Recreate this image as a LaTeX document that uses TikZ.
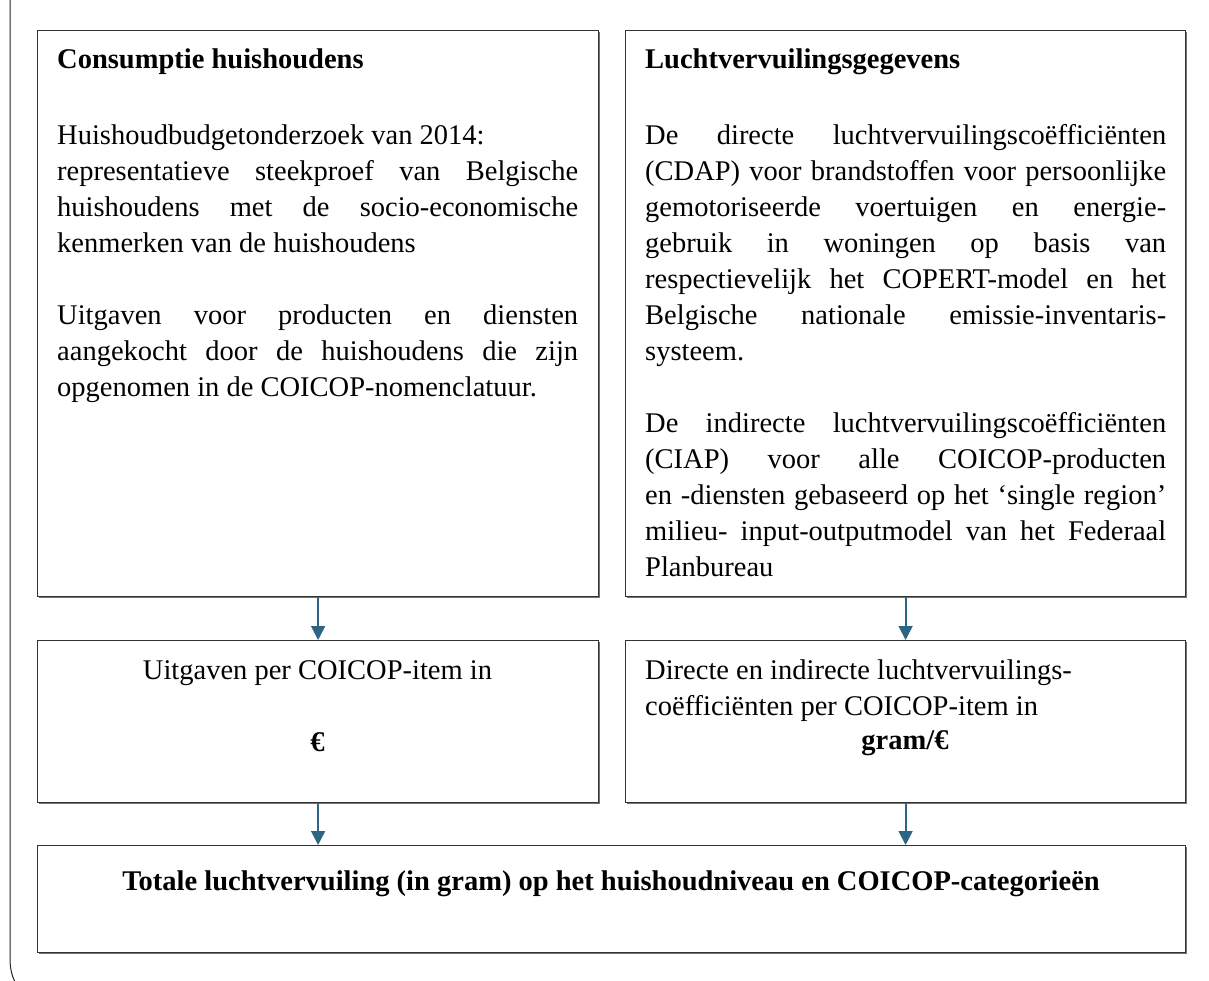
\documentclass[tikz,border=0pt]{standalone}
\usepackage{fontspec}
\setmainfont{Liberation Serif}
\usetikzlibrary{arrows.meta,shadows}
\definecolor{arrowblue}{RGB}{44,102,130}
\definecolor{boxline}{RGB}{50,50,50}
\newcommand{\J}[1]{\makebox[521pt][s]{#1}}
\begin{document}
\begin{tikzpicture}[x=1pt,y=-1pt,
  box/.style={draw=boxline, line width=1.2pt, fill=white, inner sep=0pt, anchor=north west,
    drop shadow={shadow xshift=1.1pt, shadow yshift=-1.1pt, fill=black!55, opacity=1}},
  txt/.style={inner sep=0pt, anchor=north west, align=left, font=\fontsize{28.5}{36}\selectfont},
  head/.style={txt, font=\fontsize{28.5}{36}\selectfont\bfseries},
  ctr/.style={inner sep=0pt, anchor=base, font=\fontsize{28.5}{36}\selectfont},
  ctrb/.style={ctr, font=\fontsize{28.5}{36}\selectfont\bfseries},
  arr/.style={draw=arrowblue, line width=1.8pt, -{Triangle[width=14pt,length=14pt]}},
  frame/.style={draw=black!85, line width=1pt}]
\useasboundingbox (0,0) rectangle (1209,981);
% outer frame (partly visible)
\draw[frame] (10,-5) -- (10,958) .. controls (10,972) and (13,980) .. (20,990);
% boxes
\node[box, minimum width=561pt, minimum height=566pt] (A) at (37,30) {};
\node[box, minimum width=560pt, minimum height=566pt] (B) at (625,30) {};
\node[box, minimum width=561pt, minimum height=162pt] (C) at (37,640) {};
\node[box, minimum width=560pt, minimum height=162pt] (D) at (625,640) {};
\node[box, minimum width=1148pt, minimum height=107pt] (E) at (37,845) {};
% left top box text
\node[head] (hA) at (57,42.8) {\strut Consumptie huishoudens};
\node[txt] (pA1) at (57,118.8) {\strut Huishoudbudgetonderzoek van 2014:\\
\J{representatieve steekproef van Belgische}\\
\J{huishoudens met de socio-economische}\\
kenmerken van de huishoudens};
\node[txt] (pA2) at (57,298.8) {\strut\J{Uitgaven voor producten en diensten}\\
\J{aangekocht door de huishoudens die zijn}\\
opgenomen in de COICOP-nomenclatuur.};
% right top box text
\node[head] (hB) at (645,42.8) {\strut Luchtvervuilingsgegevens};
\node[txt] (pB1) at (645,118.8) {\strut\J{De directe luchtvervuilingscoëfficiënten}\\
\J{(CDAP) voor brandstoffen voor persoonlijke}\\
\J{gemotoriseerde voertuigen en energie-}\\
\J{gebruik in woningen op basis van}\\
\J{respectievelijk het COPERT-model en het}\\
\J{Belgische nationale emissie-inventaris-}\\
systeem.};
\node[txt] (pB2) at (645,406.8) {\strut\J{De indirecte luchtvervuilingscoëfficiënten}\\
\J{(CIAP) voor alle COICOP-producten}\\
\J{en -diensten gebaseerd op het ‘single region’}\\
\J{milieu- input-outputmodel van het Federaal}\\
Planbureau};
% middle boxes text
\node[ctr] (tC) at (317.5,679) {Uitgaven per COICOP-item in};
\node[ctrb] (uC) at (317.5,751) {€};
\node[txt] (tD) at (645,653.8) {\strut Directe en indirecte luchtvervuilings-\\
coëfficiënten per COICOP-item in};
\node[ctrb] (uD) at (905,749) {gram/€};
% bottom box text
\node[ctrb] (tE) at (611,890) {Totale luchtvervuiling (in gram) op het huishoudniveau en COICOP-categorieën};
% arrows
\draw[arr] (A.south) -- (C.north);
\draw[arr] (B.south) -- (D.north);
\draw[arr] (C.south) -- (C.south |- E.north);
\draw[arr] (D.south) -- (D.south |- E.north);
\end{tikzpicture}
\end{document}
